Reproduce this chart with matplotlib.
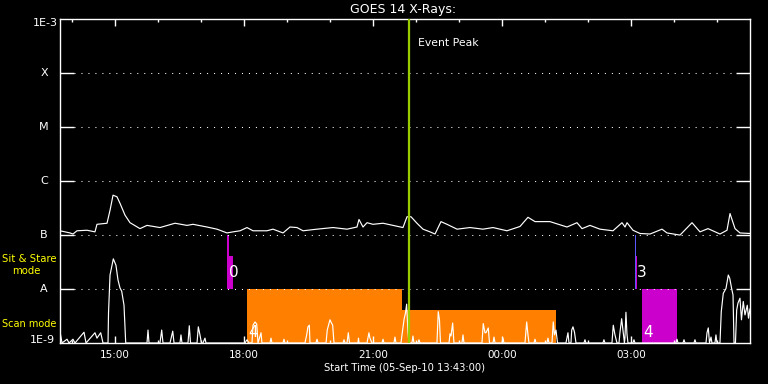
import matplotlib
matplotlib.use("Agg")
import matplotlib.pyplot as plt
import matplotlib.transforms as mtransforms
from matplotlib.ticker import FixedLocator, NullLocator
import numpy as np

# ---------------- data ----------------
start_label = "Start Time (05-Sep-10 13:43:00)"
start_hm = (13, 43)
x_end_min = 962.8  # plot span in minutes after start

tick_times = ["15:00", "18:00", "21:00", "00:00", "03:00"]
title = "GOES 14 X-Rays:"

class_levels = [1e-8, 1e-7, 1e-6, 1e-5, 1e-4]
class_names = ["A", "B", "C", "M", "X"]

# GOES long channel (1-8 A): minutes after start, log10 flux
long_min = [0, 14, 18.1, 23.7, 37.7, 48.8, 51.6, 65.6, 69.8, 74, 79.5, 83.7, 90.7, 97.7,
            111.6, 121.4, 139.5, 160.5, 177.2, 185.6, 205.1, 219.1, 233, 241.4, 251.2,
            260.9, 269.3, 288.8, 297.2, 311.2, 320.9, 330.7, 339.1, 358.6, 380.9, 400.5,
            414.4, 417.2, 422.8, 428.4, 436.7, 450.7, 464.7, 478.6, 484.2, 489.8, 498.1,
            506.5, 516.3, 523.3, 531.6, 540, 554, 572.1, 590.2, 604.2, 623.7, 641.9, 653,
            662.8, 683.7, 707.4, 721.4, 728.4, 739.5, 753.5, 771.6, 784.2, 788.4, 791.2,
            799.5, 809.3, 823.3, 840, 847, 865.1, 881.9, 893, 904.2, 920.9, 930.7, 934.9,
            941.9, 948.8, 962.8]
long_log = [-6.92, -6.96, -6.98, -6.92, -6.91, -6.94, -6.80, -6.78, -6.54, -6.26, -6.29,
            -6.41, -6.63, -6.77, -6.88, -6.82, -6.86, -6.78, -6.82, -6.80, -6.85, -6.89,
            -6.96, -6.94, -6.92, -6.86, -6.92, -6.92, -6.89, -6.96, -6.85, -6.86, -6.92,
            -6.89, -6.86, -6.89, -6.85, -6.71, -6.85, -6.77, -6.80, -6.78, -6.82, -6.86,
            -6.66, -6.66, -6.78, -6.89, -6.94, -6.98, -6.75, -6.80, -6.89, -6.86, -6.89,
            -6.86, -6.92, -6.84, -6.67, -6.75, -6.75, -6.85, -6.77, -6.88, -6.82, -6.89,
            -6.92, -6.77, -6.85, -6.77, -6.91, -6.97, -6.98, -6.89, -6.96, -7.00, -6.77,
            -6.94, -6.88, -6.98, -6.91, -6.60, -6.88, -6.96, -6.97]

# GOES short channel (0.5-4 A): minutes after start, log10 flux
short_min = [0, 2.8, 9.8, 12.6, 18.1, 20.9, 33.5, 36.3, 48.8, 51.6, 56.8, 60, 67, 67.7,
             69.8, 74.4, 78.1, 80.9, 83.7, 86.1, 89.3, 91.7, 121.4, 122.8, 124.2, 139.5,
             141.9, 143.7, 153.5, 157.3, 159.1, 167.4, 168.8, 170.2, 178.6, 180.4, 182.1,
             191.2, 193, 195.3, 197.4, 199.5, 202.3, 203.7, 258.1, 260.9, 263.7, 267.9,
             269.3, 272.1, 274.5, 276.3, 280.5, 281.8, 293, 294.4, 295.8, 311.2, 312.5,
             313.9, 341.8, 344.2, 346, 347.9, 348.8, 357.2, 358.6, 360, 371.2, 372.9,
             376.7, 378.1, 380.5, 382.3, 394.9, 396.3, 397.7, 400.5, 402.3, 403.9, 415.8,
             416.5, 417.2, 428.4, 431.1, 432.5, 435.3, 449.3, 450.7, 452.1, 466, 467.4,
             468.8, 475.8, 477.2, 480, 482.1, 483.7, 485.6, 487, 491.1, 492.5, 493.9,
             499.5, 500.9, 502.3, 526, 527.8, 529.5, 530.9, 542.8, 544.2, 545.6, 547.9,
             549.7, 560.9, 562.3, 563.7, 588.8, 590.6, 593, 594.4, 597.6, 599.3, 604.2,
             605.6, 607, 616.7, 618.1, 619.5, 648.8, 651.2, 653, 654.4, 661.4, 662.8,
             664.2, 679.5, 680.9, 682.3, 686.5, 688.3, 690, 692.1, 694.2, 706, 708.8,
             710.2, 713, 714, 715.8, 717.9, 720, 731.1, 732.5, 733.9, 757.6, 759, 760.4,
             770.2, 772, 774.4, 777.2, 780, 781.4, 783.7, 785.5, 787.6, 788.3, 789.7,
             791.1, 792.5, 799.5, 800.9, 802.3, 859.5, 860.9, 862.3, 869.3, 870.7, 872.1,
             884.6, 886, 887.4, 901.4, 902.8, 904.6, 906.3, 908.4, 909.7, 913.9, 915.3,
             916.7, 920.9, 922.7, 925.5, 929.3, 932.5, 934.5, 937.2, 939.1, 940.5, 942.5,
             944.2, 946, 948.8, 950.9, 953.4, 955.8, 959, 960.7, 962.8]
short_log = [-8.79, -9.0, -8.93, -9.0, -8.93, -9.0, -8.80, -9.0, -8.81, -8.91, -8.81, -9.0,
             -9.0, -8.44, -7.74, -7.44, -7.56, -7.83, -7.98, -8.04, -8.30, -9.0, -9.0,
             -8.76, -9.0, -9.0, -8.76, -9.0, -9.0, -8.78, -9.0, -9.0, -8.85, -9.0, -9.0,
             -8.68, -9.0, -9.0, -8.70, -8.85, -9.0, -9.0, -8.91, -9.0, -9.0, -8.94, -9.0,
             -9.0, -8.67, -8.61, -8.65, -9.0, -8.81, -9.0, -9.0, -8.91, -9.0, -9.0, -8.93,
             -9.0, -9.0, -8.85, -8.70, -8.67, -9.0, -9.0, -8.93, -9.0, -9.0, -8.76, -8.57,
             -8.61, -8.67, -9.0, -9.0, -8.94, -9.0, -9.0, -8.81, -9.0, -9.0, -8.91, -9.0,
             -9.0, -8.81, -8.91, -9.0, -9.0, -8.93, -9.0, -9.0, -8.89, -9.0, -9.0, -8.85,
             -8.57, -8.44, -8.28, -8.81, -9.0, -9.0, -8.87, -9.0, -9.0, -8.94, -9.0, -9.0,
             -8.42, -8.57, -9.0, -9.0, -8.83, -8.87, -8.63, -9.0, -9.0, -8.85, -9.0, -9.0,
             -8.64, -8.81, -8.81, -8.72, -9.0, -9.0, -8.89, -9.0, -9.0, -8.91, -9.0, -9.0,
             -8.61, -8.85, -9.0, -9.0, -8.93, -9.0, -9.0, -8.91, -9.0, -9.0, -8.61, -8.85,
             -8.76, -9.0, -9.0, -8.81, -9.0, -9.0, -8.76, -8.70, -8.80, -9.0, -9.0, -8.94,
             -9.0, -9.0, -8.94, -9.0, -9.0, -8.67, -8.85, -9.0, -9.0, -8.80, -8.55, -8.76,
             -9.0, -8.91, -8.43, -8.83, -9.0, -9.0, -8.94, -9.0, -9.0, -8.93, -9.0, -9.0,
             -8.94, -9.0, -9.0, -8.94, -9.0, -9.0, -8.81, -8.72, -9.0, -8.89, -9.0, -9.0,
             -8.85, -9.0, -9.0, -8.42, -8.08, -7.99, -7.74, -7.80, -7.99, -8.11, -9.0,
             -9.0, -8.39, -8.26, -8.17, -8.57, -8.23, -8.48, -8.30, -8.54, -8.37]

# Observation-mode bars (minutes after start)
bar_start = [233.0, 235.8, 260.9, 477.2, 802.3, 803.5, 812.1]
bar_end = [235.8, 241.4, 477.2, 691.7, 804.3, 805.5, 860.4]
bar_bottom = [1e-8, 1e-8, 1e-9, 1e-9, 1e-8, 1e-8, 1e-9]
bar_top = [1e-7, 4.1e-8, 1e-8, 4.1e-9, 1e-7, 4.1e-8, 1e-8]
bar_color = ["#cc00cc", "#cc00cc", "#ff8000", "#ff8000", "#5a5aff", "#cc00cc", "#cc00cc"]

# Bar number labels
label_text = ["0", "4", "3", "4"]
label_min = [233.0, 260.9, 802.3, 812.1]
label_band = ["sit", "scan", "sit", "scan"]

event_peak_min = 487.0

# ---------------- figure ----------------
W, H = 768, 384
fig = plt.figure(figsize=(W / 100, H / 100), dpi=100, facecolor="black")
ax = fig.add_axes([60 / W, 41 / H, 690 / W, 323.7 / H])
ax.set_facecolor("black")
ax.set_yscale("log")
ax.set_ylim(1e-9, 1e-3)
ax.set_xlim(0, x_end_min)

for s in ax.spines.values():
    s.set_color("white")
    s.set_linewidth(1.0)

# bars
bs = np.array(bar_start)
be = np.array(bar_end)
bb = np.array(bar_bottom)
bt = np.array(bar_top)
ax.bar(x=bs, height=bt - bb, width=be - bs, bottom=bb, align="edge", color=bar_color,
       linewidth=0, zorder=1)

# y ticks & grid
ax.yaxis.set_major_locator(FixedLocator(class_levels))
ax.yaxis.set_minor_locator(NullLocator())
ax.tick_params(axis="y", which="major", direction="in", length=10, width=1.0,
               colors="white", left=True, right=True, labelleft=False, labelright=False)
ax.grid(axis="y", which="major", color="white", linestyle=(0, (1, 5.7)), linewidth=0.75)
ax.set_axisbelow(False)

# x ticks
def to_min(hm):
    h, m = map(int, hm.split(":"))
    d = (h * 60 + m) - (start_hm[0] * 60 + start_hm[1])
    if d < 0:
        d += 24 * 60
    return d

tick_pos = [to_min(t) for t in tick_times]
first_hour = 60 - start_hm[1]
minor_pos = list(np.arange(first_hour, x_end_min, 60))
ax.xaxis.set_major_locator(FixedLocator(tick_pos))
ax.xaxis.set_minor_locator(FixedLocator(minor_pos))
ax.set_xticklabels(tick_times)
ax.tick_params(axis="x", which="major", direction="in", length=5, width=1.0,
               colors="white", top=True, bottom=True, labelsize=7.5, pad=5)
ax.tick_params(axis="x", which="minor", direction="in", length=2.5, width=1.0,
               colors="white", top=True, bottom=True)

# curves
ax.plot(long_min, 10 ** np.array(long_log), color="white", lw=0.85, zorder=3)
ax.plot(short_min, 10 ** np.array(short_log), color="white", lw=0.85, zorder=3)

# event peak
ax.axvline(event_peak_min, color="#99cc00", lw=1.6, zorder=4)
ax.text((418.3 - 60) / 690, (343 - 42.8) / 323.7, "Event Peak", transform=ax.transAxes,
        color="white", fontsize=7.8, ha="left", va="center")

# bar labels
for t, m, band in zip(label_text, label_min, label_band):
    yv = 10 ** -7.69 if band == "sit" else 10 ** -8.81
    ax.annotate(t, xy=(m, yv), xytext=(1.2, 0), textcoords="offset points",
                color="white", fontsize=11, ha="left", va="center", zorder=5)

# y labels
blend = mtransforms.blended_transform_factory(ax.transAxes, ax.transData)
for lev, name in zip(class_levels, class_names):
    ax.text(-16 / 690, lev, name, transform=blend, color="white", fontsize=8,
            ha="center", va="center")
ax.text(-2.5 / 690, (343 - 23) / 323.7, "1E-3", transform=ax.transAxes, color="white",
        fontsize=8, ha="right", va="center")
ax.text(-5 / 690, (343 - 339.7) / 323.7, "1E-9", transform=ax.transAxes, color="white",
        fontsize=8, ha="right", va="center")

# side labels (yellow)
fig.text(2 / W, 1 - 259 / H, "Sit & Stare", color="yellow", fontsize=7.3,
         ha="left", va="center")
fig.text(12 / W, 1 - 271 / H, "mode", color="yellow", fontsize=7.3,
         ha="left", va="center")
fig.text(2 / W, 1 - 323.8 / H, "Scan mode", color="yellow", fontsize=7.0,
         ha="left", va="center")

# title and x label
fig.text(403 / W, 1 - 9.5 / H, title, color="white", fontsize=9, ha="center", va="center")
fig.text(405 / W, 1 - 368 / H, start_label, color="white", fontsize=7.2,
         ha="center", va="center")

fig.savefig("out.png", dpi=100, facecolor="black")
